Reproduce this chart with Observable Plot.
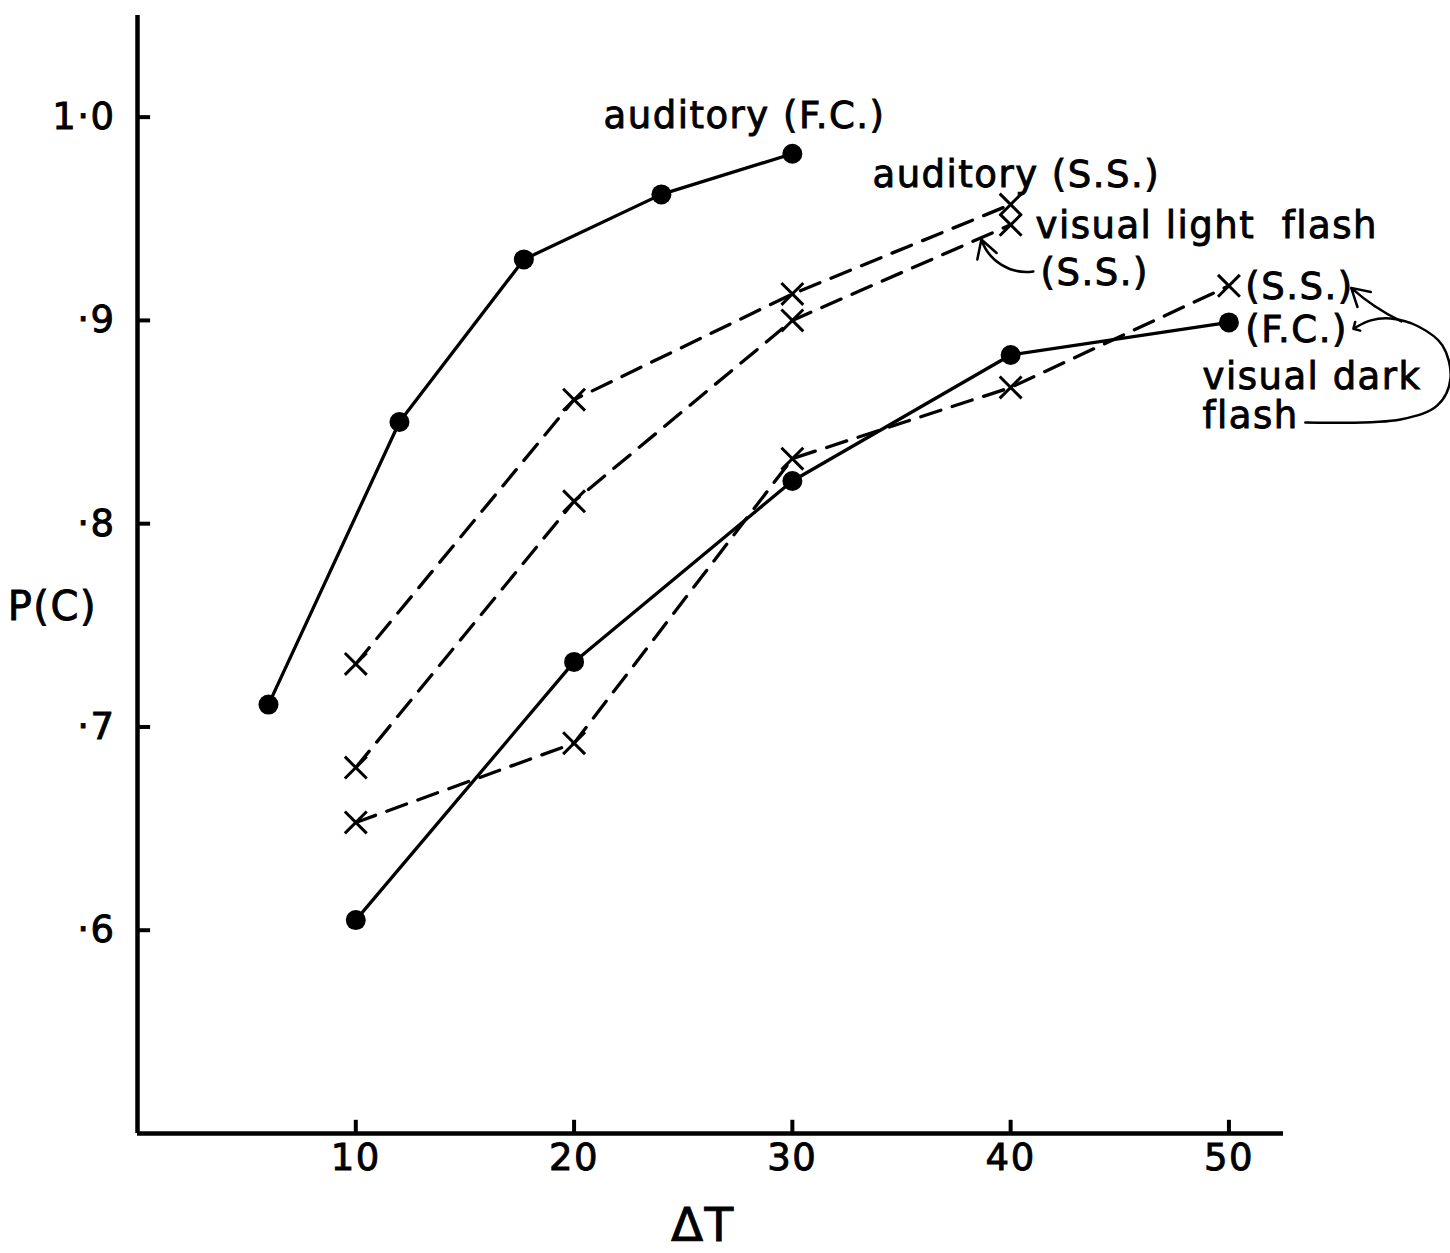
<!DOCTYPE html>
<html><head><meta charset="utf-8">
<script src="https://cdn.jsdelivr.net/npm/d3@7"></script>
<script src="https://cdn.jsdelivr.net/npm/@observablehq/plot@0.6"></script>
<style>
body{margin:0;background:#fff}
#chart text{stroke:#000;stroke-width:0.9px}
</style>
</head><body><div id="chart"></div>
<script>
// Axis ticks
const xTicks = [10, 20, 30, 40, 50];
const yTicks = [0.6, 0.7, 0.8, 0.9, 1.0];
const yTickLabels = ["·6", "·7", "·8", "·9", "1·0"];

// Series (ΔT, P(C))
const audFC_x = [6, 12, 17.7, 24, 30];
const audFC_y = [0.711, 0.850, 0.930, 0.962, 0.982];
const audSS_x = [10, 20, 30, 40];
const audSS_y = [0.731, 0.861, 0.913, 0.957];
const vlSS_x = [10, 20, 30, 40];
const vlSS_y = [0.680, 0.811, 0.900, 0.947];
const vdFC_x = [10, 20, 30, 40, 50];
const vdFC_y = [0.605, 0.732, 0.821, 0.883, 0.899];
const vdSS_x = [10, 20, 30, 40, 50];
const vdSS_y = [0.653, 0.692, 0.832, 0.867, 0.917];

// Annotation labels (data coordinates, baseline)
const labelText = ["auditory (F.C.)", "auditory (S.S.)", "visual light  flash", "(S.S.)", "(S.S.)", "(F.C.)", "visual dark", "flash"];
const labelX = [21.35, 33.67, 41.14, 41.37, 50.75, 50.75, 48.79, 48.79];
const labelY = [0.9949, 0.9654, 0.9403, 0.9172, 0.9105, 0.8896, 0.8665, 0.8473];

// Axis titles
const yTitle = "P(C)";
const xTitle = "ΔT";
const yTitlePos = {x: -3.9, y: 0.7588};
const xTitlePos = {x: 25.9, y: 0.4547};

// Arrow annotations
const lightArrow = {x1: 41.04, y1: 0.9241, x2: 38.66, y2: 0.9398};
const darkSSArrow = {x1: 57.9, y1: 0.8995, x2: 55.6, y2: 0.9160};
const loopX = [53.50, 57.86, 59.55, 60.15, 59.78, 58.68, 57.4, 56.5, 55.8];
const loopY = [0.8498, 0.8513, 0.8582, 0.8714, 0.8877, 0.8970, 0.9009, 0.9000, 0.8965];

const rows = (name, xs, ys) => xs.map((x, i) => ({series: name, x, y: ys[i]}));
const solidRows = [...rows("auditory F.C.", audFC_x, audFC_y), ...rows("visual dark F.C.", vdFC_x, vdFC_y)];
const dashedRows = [...rows("auditory S.S.", audSS_x, audSS_y), ...rows("visual light S.S.", vlSS_x, vlSS_y), ...rows("visual dark S.S.", vdSS_x, vdSS_y)];
const labels = labelText.map((t, i) => ({t, x: labelX[i], y: labelY[i]}));
const loop = loopX.map((x, i) => ({x, y: loopY[i]}));

const chart = Plot.plot({
  width: 1450,
  height: 1253,
  marginLeft: 137,
  marginRight: 167,
  marginTop: 15,
  marginBottom: 120,
  style: {fontFamily: "'DejaVu Sans', sans-serif", fontSize: "37px", letterSpacing: "1.5px", background: "#fff", color: "#000"},
  x: {domain: [0, 52.5], axis: null},
  y: {domain: [0.5, 1.05], axis: null},
  marks: [
    Plot.ruleX([0], {strokeWidth: 4.5}),
    Plot.ruleY([0.5], {strokeWidth: 4.5}),
    Plot.ruleY(yTicks, {x1: 0, x2: 0.6, strokeWidth: 4}),
    Plot.ruleX(xTicks, {y1: 0.5, y2: 0.5065, strokeWidth: 4}),
    Plot.axisY({ticks: yTicks, tickSize: 0, tickPadding: 22, tickFormat: (d) => yTickLabels[yTicks.indexOf(d)], label: null, fontSize: 37}),
    Plot.axisX({ticks: xTicks, tickSize: 0, tickPadding: 10, label: null, fontSize: 37}),
    Plot.line(solidRows, {x: "x", y: "y", z: "series", stroke: "black", strokeWidth: 3.3}),
    Plot.line(dashedRows, {x: "x", y: "y", z: "series", stroke: "black", strokeWidth: 3.3, strokeDasharray: "21,12"}),
    Plot.dot(solidRows, {x: "x", y: "y", r: 10, fill: "black"}),
    Plot.dot(dashedRows, {x: "x", y: "y", r: 10, symbol: "times", stroke: "black", strokeWidth: 3}),
    Plot.text(labels, {x: "x", y: "y", text: "t", textAnchor: "start", lineAnchor: "bottom", fontSize: 37, fill: "black"}),
    Plot.text([yTitle], {x: yTitlePos.x, y: yTitlePos.y, text: (d) => d, textAnchor: "middle", lineAnchor: "middle", fontSize: 40, fill: "black"}),
    Plot.text([xTitle], {x: xTitlePos.x, y: xTitlePos.y, text: (d) => d, textAnchor: "middle", lineAnchor: "middle", fontSize: 47, fill: "black"}),
    Plot.arrow([lightArrow], {x1: "x1", y1: "y1", x2: "x2", y2: "y2", bend: 40, headLength: 14, strokeWidth: 2.5, stroke: "black"}),
    Plot.arrow([darkSSArrow], {x1: "x1", y1: "y1", x2: "x2", y2: "y2", bend: 8, headLength: 14, strokeWidth: 2.5, stroke: "black"}),
    Plot.line(loop, {x: "x", y: "y", curve: "catmull-rom", stroke: "black", strokeWidth: 2.5, markerEnd: "arrow"})
  ]
});
document.getElementById("chart").appendChild(chart);
</script>
</body></html>
